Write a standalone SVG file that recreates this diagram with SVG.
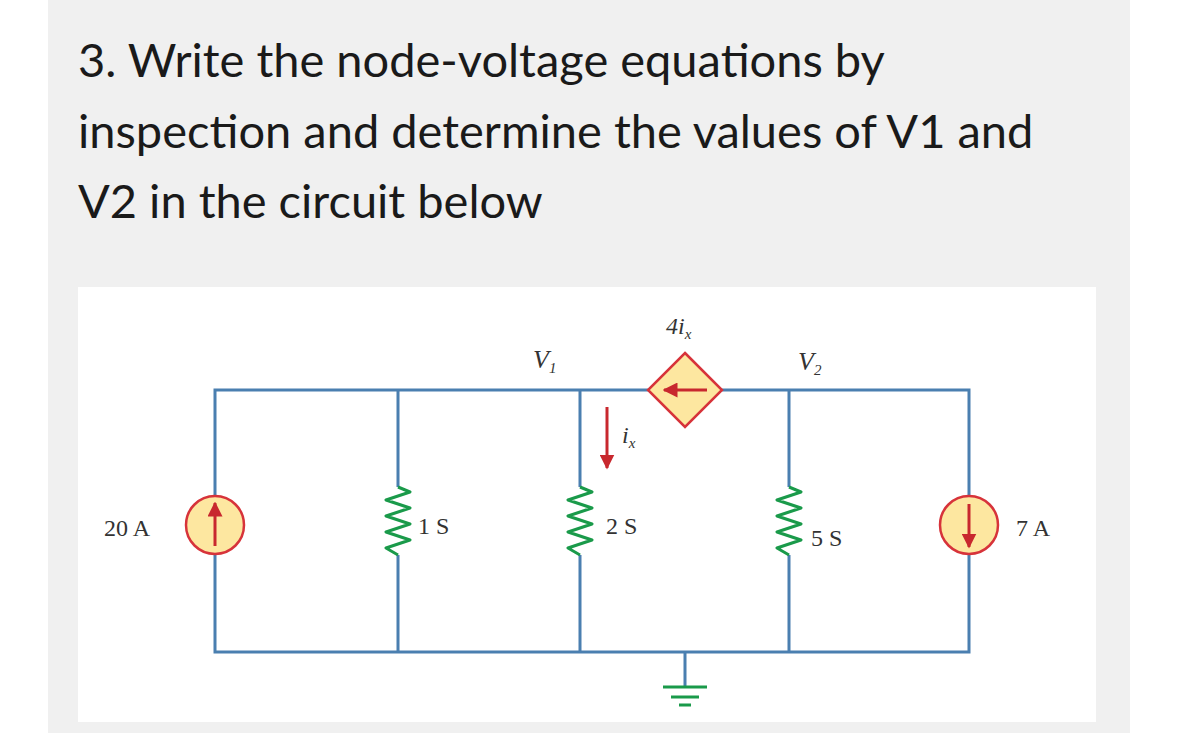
<svg xmlns="http://www.w3.org/2000/svg" width="1179" height="733" viewBox="0 0 1179 733">
<style>
.q{font-family:Lato,"Liberation Sans",sans-serif;font-size:47px;fill:#1a1a1a}
.w{fill:none;stroke:#4a7fb0;stroke-width:3}
.r{fill:none;stroke:#1a9a4a;stroke-width:3;stroke-linejoin:round}
.s{fill:#fde7a0;stroke:#d7333a;stroke-width:2.5}
.a{stroke:#c8282e;stroke-width:3;fill:none}
.l{font-family:"Liberation Serif",serif;font-size:24px;fill:#333}
.i{font-family:"Liberation Serif",serif;font-style:italic;fill:#333}
</style>
<defs><marker id="ah" viewBox="0 0 10 10" refX="9" refY="5" markerWidth="5" markerHeight="5" orient="auto"><path d="M0 0L10 5L0 10z" fill="#c8282e"/></marker></defs>
<rect width="1179" height="733" fill="#fff"/>
<rect x="48" y="0" width="1082" height="733" fill="#f0f0f0"/>
<text class="q" x="78" y="77">3. Write the node-voltage equations by</text>
<text class="q" x="78" y="148">inspection and determine the values of V1 and</text>
<text class="q" x="78" y="218">V2 in the circuit below</text>
<rect x="78" y="287" width="1018" height="435" fill="#fff"/>
<g id="wires">
<path class="w" d="M215 496V390H648M722 390H969V496M969 554V652H215V554"/>
<path class="w" d="M398 390V487M398 555V652M580 390V487M580 555V652M789 390V487M789 555V652M685 652V687"/>
</g>
<g id="ground"><path d="M663 687H707M671 697H699M679 705H691" stroke="#1a9a4a" stroke-width="3"/></g>
<g id="src20"><circle class="s" cx="215" cy="525" r="29"/><line class="a" x1="215" y1="546" x2="215" y2="503" marker-end="url(#ah)"/><text class="l" x="104" y="536">20 A</text></g>
<g id="r1"><path class="r" d="M398 487L410 492L386 500L410 508L386 516L410 524L386 532L410 540L386 548L398 555"/><text class="l" x="418" y="534">1 S</text></g>
<g id="r2"><path class="r" d="M580 487L592 492L568 500L592 508L568 516L592 524L568 532L592 540L568 548L580 555"/><text class="l" x="606" y="534">2 S</text></g>
<g id="r5"><path class="r" d="M789 487L801 492L777 500L801 508L777 516L801 524L777 532L801 540L777 548L789 555"/><text class="l" x="811" y="546">5 S</text></g>
<g id="src7"><circle class="s" cx="969" cy="525" r="29"/><line class="a" x1="969" y1="504" x2="969" y2="547" marker-end="url(#ah)"/><text class="l" x="1016" y="536">7 A</text></g>
<g id="dep"><path class="s" d="M685 353L722 390L685 427L648 390Z"/><line class="a" x1="707" y1="390" x2="664" y2="390" marker-end="url(#ah)"/><text class="i" x="666" y="334" font-size="24">4<tspan>i</tspan><tspan font-size="15" dy="5">x</tspan></text></g>
<g id="ix"><line class="a" x1="607" y1="407" x2="607" y2="468" marker-end="url(#ah)"/><text class="i" x="622" y="443" font-size="24">i<tspan font-size="15" dy="5">x</tspan></text></g>
<text class="i" x="533" y="368" font-size="26">V<tspan font-size="15" dy="5">1</tspan></text>
<text class="i" x="798" y="370" font-size="26">V<tspan font-size="15" dy="5">2</tspan></text>
</svg>
